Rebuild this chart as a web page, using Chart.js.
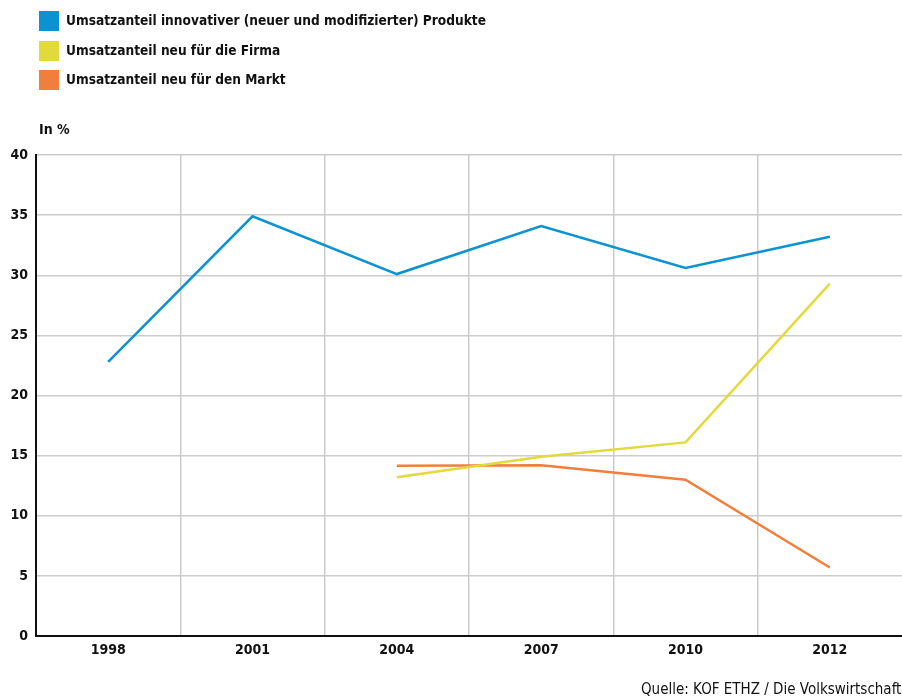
<!DOCTYPE html>
<html>
<head>
<meta charset="utf-8">
<script src="https://cdn.jsdelivr.net/npm/chart.js@4"></script>
<style>
html,body{margin:0;padding:0;background:#fff;}
#wrap{position:relative;width:902px;height:697px;}
</style>
</head>
<body>
<div id="wrap"><canvas id="c" width="902" height="697"></canvas></div>
<script>
const categories = ["1998", "2001", "2004", "2007", "2010", "2012"];
const innovativ = [22.8, 34.9, 30.1, 34.1, 30.6, 33.2];
const neuFirma = [null, null, 13.2, 14.9, 16.1, 29.3];
const neuMarkt = [null, null, 14.15, 14.2, 13.0, 5.7];
const seriesNames = [
  "Umsatzanteil innovativer (neuer und modifizierter) Produkte",
  "Umsatzanteil neu für die Firma",
  "Umsatzanteil neu für den Markt"
];
const yTicks = [0, 5, 10, 15, 20, 25, 30, 35, 40];
const unitLabel = "In %";
const sourceText = "Quelle: KOF ETHZ / Die Volkswirtschaft";

const colors = ["#0a93d2", "#e2d93a", "#f17f3b"];
const FONT = "'DejaVu Sans Condensed', 'DejaVu Sans', sans-serif";

const extras = {
  id: 'extras',
  afterDraw(chart) {
    const ctx = chart.ctx;
    ctx.save();
    const boxY = [11, 41, 70];
    chart.data.datasets.forEach((ds, i) => {
      ctx.fillStyle = ds.borderColor;
      ctx.fillRect(39, boxY[i], 20, 20);
      ctx.fillStyle = '#111';
      ctx.font = "bold 13.6px " + FONT;
      ctx.textBaseline = 'middle';
      ctx.textAlign = 'left';
      ctx.fillText(ds.label, 66, boxY[i] + 10.5);
    });
    ctx.font = "bold 14px " + FONT;
    ctx.fillStyle = '#111';
    ctx.fillText(unitLabel, 39, 130);
    ctx.font = "15px " + FONT;
    ctx.fillText(sourceText, 641, 690);
    ctx.restore();
  }
};

new Chart(document.getElementById('c'), {
  type: 'line',
  data: {
    labels: categories,
    datasets: [
      { label: seriesNames[0], data: innovativ, borderColor: colors[0], backgroundColor: colors[0] },
      { label: seriesNames[1], data: neuFirma, borderColor: colors[1], backgroundColor: colors[1] },
      { label: seriesNames[2], data: neuMarkt, borderColor: colors[2], backgroundColor: colors[2] }
    ]
  },
  options: {
    responsive: false,
    animation: false,
    devicePixelRatio: 1,
    layout: { padding: { top: 155, right: 0, left: 0, bottom: 0 } },
    elements: {
      line: { borderWidth: 2.5, tension: 0, borderCapStyle: 'butt' },
      point: { radius: 0, hoverRadius: 0 }
    },
    plugins: { legend: { display: false }, tooltip: { enabled: false } },
    scales: {
      x: {
        type: 'category',
        offset: true,
        grid: {
          offset: true,
          color: (c) => (c.type !== 'tick' ? 'rgba(0,0,0,0)' : '#cccccc'),
          lineWidth: 1.5, drawTicks: false
        },
        border: { color: '#111', width: 2 },
        ticks: { color: '#111', font: { family: FONT, size: 14, weight: 'bold' }, padding: 6, maxRotation: 0 },
        afterFit(scale) { scale.height = 61; }
      },
      y: {
        min: 0, max: 40,
        afterBuildTicks(scale) { scale.ticks = yTicks.map(v => ({ value: v })); },
        grid: { color: '#cccccc', lineWidth: 1.5, drawTicks: false },
        border: { color: '#111', width: 2 },
        ticks: { color: '#111', font: { family: FONT, size: 14, weight: 'bold' }, padding: 8 },
        afterFit(scale) { scale.width = 36; }
      }
    }
  },
  plugins: [extras]
});
</script>
</body>
</html>
